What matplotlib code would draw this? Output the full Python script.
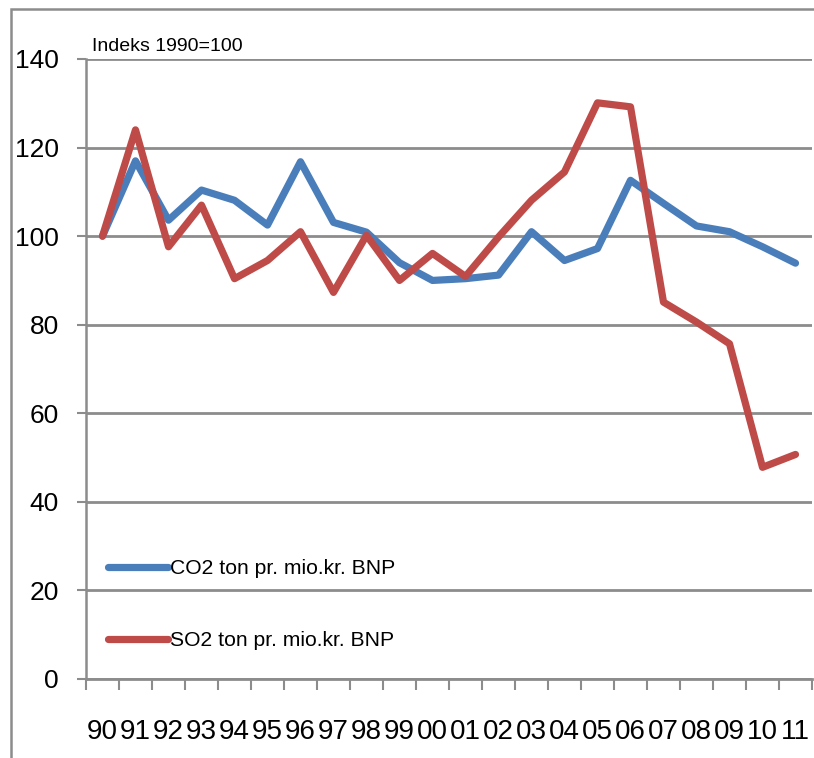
import matplotlib
matplotlib.use("Agg")
import matplotlib.pyplot as plt
from matplotlib.patches import Rectangle

# Data (index 1990 = 100)
years = ["90", "91", "92", "93", "94", "95", "96", "97", "98", "99", "00",
         "01", "02", "03", "04", "05", "06", "07", "08", "09", "10", "11"]
co2 = [100.0, 117.0, 103.6, 110.4, 108.1, 102.5, 116.8, 103.1, 100.9, 94.0, 90.0,
       90.4, 91.2, 101.0, 94.5, 97.2, 112.6, 107.4, 102.3, 101.0, 97.6, 93.9]
so2 = [100.0, 124.0, 97.6, 107.0, 90.4, 94.5, 101.0, 87.3, 100.2, 90.0, 96.1,
       90.9, 99.8, 108.1, 114.5, 130.1, 129.2, 85.1, 80.6, 75.7, 47.8, 50.7]
series_labels = ["CO2 ton pr. mio.kr. BNP", "SO2 ton pr. mio.kr. BNP"]
y_ticks = [0, 20, 40, 60, 80, 100, 120, 140]

plt.rcParams["font.family"] = ["Liberation Sans", "DejaVu Sans"]

fig = plt.figure(figsize=(8.14, 7.58), dpi=100)
ax = fig.add_axes([86 / 814, 1 - 679 / 758, 726 / 814, 620 / 758])

# outer chart frame (right and bottom edges are cut off in the reference)
fig.patches.append(Rectangle((11 / 814, -0.2), 2.0, (758 - 9) / 758 + 0.2,
                             transform=fig.transFigure, fill=False,
                             edgecolor="#8c8c8c", linewidth=1.8))

x = range(len(years))
ax.plot(x, co2, color="#4A7EBB", linewidth=5.2, label=series_labels[0],
        solid_capstyle="round", solid_joinstyle="round")
ax.plot(x, so2, color="#BE4B48", linewidth=5.2, label=series_labels[1],
        solid_capstyle="round", solid_joinstyle="round")

ax.set_xlim(-0.5, len(years) - 0.5)
ax.set_ylim(0, 140)
ax.set_yticks(y_ticks)
ax.set_yticklabels([str(v) for v in y_ticks], fontsize=19)
ax.tick_params(axis="y", length=6.5, width=1.5, color="#8c8c8c", pad=13)
ax.set_xticks(list(x))
ax.set_xticklabels(years, fontsize=20)
ax.tick_params(axis="x", which="major", length=0, pad=29)
ax.set_xticks([i - 0.5 for i in range(len(years) + 1)], minor=True)
ax.tick_params(axis="x", which="minor", length=8, width=1.5, color="#8c8c8c")

ax.grid(axis="y", color="#8c8c8c", linewidth=2)
ax.set_axisbelow(True)
for side in ["top", "right"]:
    ax.spines[side].set_visible(False)
ax.spines["left"].set_color("#8c8c8c")
ax.spines["left"].set_linewidth(1.8)
ax.spines["bottom"].set_color("#8c8c8c")
ax.spines["bottom"].set_linewidth(2)

ax.text(0.008, 1.006, "Indeks 1990=100", transform=ax.transAxes,
        fontsize=14, va="bottom", ha="left")

leg = ax.legend(loc="upper left", bbox_to_anchor=(0.0303, 0.193), frameon=False,
                fontsize=15.2, handlelength=2.85, handletextpad=0.1,
                labelspacing=2.5, borderpad=0, borderaxespad=0)

fig.savefig("out.png", dpi=100)
